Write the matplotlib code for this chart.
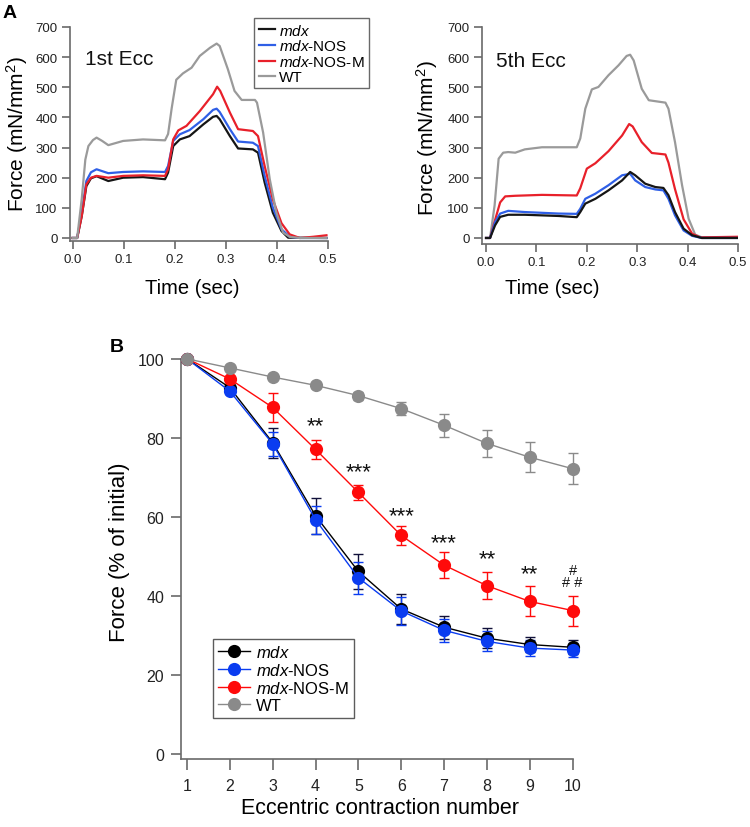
import numpy as np
import matplotlib
matplotlib.use("Agg")
import matplotlib.pyplot as plt

plt.rcParams["font.family"] = ["Liberation Sans", "DejaVu Sans"]
plt.rcParams["mathtext.fontset"] = "custom"
plt.rcParams["mathtext.rm"] = "Liberation Sans"
plt.rcParams["mathtext.it"] = "Liberation Sans:italic"

W, H = 750, 828

# ---- Panel A traces (time in sec, force in mN/mm^2) ----
ecc1_wt_t = [0, 0.009, 0.018, 0.025, 0.031, 0.04, 0.047, 0.058, 0.07, 0.099, 0.138, 0.181, 0.187, 0.194,
             0.203, 0.216, 0.233, 0.249, 0.269, 0.282, 0.288, 0.304, 0.317, 0.331, 0.357, 0.361, 0.373,
             0.386, 0.399, 0.412, 0.425, 0.445, 0.497]
ecc1_wt_f = [0, 0, 130, 260, 305, 325, 333, 322, 308, 322, 327, 324, 345, 430,
             525, 546, 565, 604, 631, 645, 637, 560, 488, 458, 458, 449, 350,
             195, 84, 18, 4, 0, 0]

ecc1_mdx_t = [0, 0.009, 0.018, 0.027, 0.036, 0.047, 0.07, 0.099, 0.138, 0.181, 0.187, 0.197, 0.21, 0.229,
              0.256, 0.275, 0.282, 0.288, 0.308, 0.324, 0.353, 0.363, 0.376, 0.392, 0.409, 0.422, 0.497]
ecc1_mdx_f = [0, 0, 73, 172, 198, 205, 189, 200, 202, 195, 217, 305, 327, 338,
              377, 402, 405, 394, 338, 297, 294, 283, 184, 84, 23, 1, 0]

ecc1_nos_t = [0, 0.009, 0.018, 0.027, 0.036, 0.047, 0.07, 0.099, 0.138, 0.181, 0.187, 0.197, 0.21, 0.229,
              0.256, 0.275, 0.282, 0.288, 0.308, 0.324, 0.353, 0.363, 0.376, 0.392, 0.409, 0.425, 0.445, 0.497]
ecc1_nos_f = [0, 0, 84, 189, 218, 228, 215, 219, 221, 219, 239, 322, 344, 358,
              394, 425, 429, 418, 361, 320, 316, 305, 206, 101, 29, 4, 0, 0]

ecc1_nosm_t = [0, 0.009, 0.018, 0.027, 0.036, 0.047, 0.07, 0.099, 0.138, 0.181, 0.187, 0.197, 0.207, 0.223,
               0.249, 0.275, 0.283, 0.289, 0.308, 0.324, 0.353, 0.363, 0.376, 0.392, 0.409, 0.425, 0.445,
               0.471, 0.497]
ecc1_nosm_f = [0, 0, 73, 178, 200, 206, 200, 206, 208, 206, 228, 327, 357, 372,
               421, 477, 502, 488, 416, 361, 355, 338, 239, 128, 49, 12, 0,
               4, 9]

ecc5_wt_t = [0, 0.008, 0.017, 0.025, 0.034, 0.044, 0.058, 0.077, 0.111, 0.15, 0.18, 0.187, 0.197, 0.21,
             0.223, 0.243, 0.263, 0.279, 0.286, 0.293, 0.309, 0.323, 0.356, 0.362, 0.375, 0.389, 0.402,
             0.415, 0.428, 0.5]
ecc5_wt_f = [0, 0, 108, 263, 283, 285, 283, 294, 301, 301, 301, 330, 429, 493,
             501, 540, 573, 604, 608, 589, 495, 457, 449, 429, 318, 175, 64,
             11, 2, 2]

ecc5_nosm_t = [0, 0.008, 0.018, 0.028, 0.038, 0.058, 0.111, 0.18, 0.187, 0.2, 0.217, 0.243, 0.27, 0.284,
               0.291, 0.309, 0.329, 0.356, 0.362, 0.375, 0.392, 0.409, 0.425, 0.5]
ecc5_nosm_f = [0, 0, 60, 118, 138, 140, 143, 141, 165, 230, 248, 288, 340, 378,
               370, 318, 282, 277, 250, 162, 62, 14, 2, 4]

ecc5_nos_t = [0, 0.008, 0.018, 0.028, 0.044, 0.077, 0.144, 0.18, 0.187, 0.197, 0.217, 0.243, 0.27, 0.286,
              0.296, 0.316, 0.336, 0.352, 0.362, 0.375, 0.392, 0.409, 0.428, 0.5]
ecc5_nos_f = [0, 0, 53, 81, 90, 86, 81, 80, 97, 130, 147, 175, 208, 213,
              191, 169, 161, 158, 130, 75, 25, 7, 0, 0]

ecc5_mdx_t = [0, 0.008, 0.018, 0.028, 0.044, 0.077, 0.144, 0.18, 0.187, 0.197, 0.217, 0.243, 0.27, 0.286,
              0.296, 0.316, 0.336, 0.352, 0.362, 0.375, 0.392, 0.409, 0.428, 0.5]
ecc5_mdx_f = [0, 0, 42, 70, 77, 77, 73, 69, 86, 114, 130, 158, 191, 219,
              208, 180, 169, 166, 142, 86, 31, 9, 0, 0]

# ---- Panel B: force (% of initial) vs contraction number ----
contraction = [1, 2, 3, 4, 5, 6, 7, 8, 9, 10]
mdx_mean = [100, 92.7, 78.8, 60.3, 46.2, 36.7, 32.1, 29.3, 27.7, 27.0]
mdx_err = [0, 0.8, 3.8, 4.5, 4.4, 3.9, 2.9, 2.5, 2.0, 1.8]
nos_mean = [100, 91.8, 78.5, 59.3, 44.6, 36.2, 31.3, 28.5, 26.8, 26.3]
nos_err = [0, 0.8, 3.0, 3.5, 4.0, 3.5, 2.9, 2.5, 2.0, 1.8]
nosm_mean = [100, 94.9, 87.7, 77.1, 66.2, 55.3, 47.8, 42.6, 38.6, 36.3]
nosm_err = [0, 0.8, 3.6, 2.4, 1.8, 2.3, 3.2, 3.4, 3.8, 3.8]
wt_mean = [100, 97.7, 95.4, 93.3, 90.7, 87.4, 83.2, 78.6, 75.1, 72.2]
wt_err = [0, 0.5, 0.6, 0.8, 1.0, 1.7, 2.9, 3.4, 3.8, 3.9]

star_x = [4, 5, 6, 7, 8, 9]
star_y = [83.0, 71.5, 60.3, 53.6, 49.4, 45.6]
star_txt = ["**", "***", "***", "***", "**", "**"]

labels = [r"$\mathit{mdx}$", r"$\mathit{mdx}$-NOS", r"$\mathit{mdx}$-NOS-M", "WT"]
trace_colors = ["#151515", "#2f5fe6", "#e8202a", "#9a9a9a"]
dot_colors = ["#000000", "#0a3cf0", "#ff0a0a", "#8a8a8a"]
spine_col = "#6a6a6a"


def px_axes(fig, left, top, right, bottom):
    return fig.add_axes([left / W, 1 - bottom / H, (right - left) / W, (bottom - top) / H])


def style_axes(ax, tick_size):
    for s in ["top", "right"]:
        ax.spines[s].set_visible(False)
    for s in ["left", "bottom"]:
        ax.spines[s].set_color(spine_col)
        ax.spines[s].set_linewidth(1.2)
    ax.tick_params(colors=spine_col, labelcolor="#222222", labelsize=tick_size, width=1.2)
    ax.tick_params(axis="y", length=6, pad=3)
    ax.tick_params(axis="x", length=6, pad=3)


fig = plt.figure(figsize=(W / 100, H / 100), dpi=100)

# ---- Panel A left ----
axl = px_axes(fig, 70, 28, 328, 242)
series1 = [(ecc1_mdx_t, ecc1_mdx_f), (ecc1_nos_t, ecc1_nos_f), (ecc1_nosm_t, ecc1_nosm_f), (ecc1_wt_t, ecc1_wt_f)]
handles_a = []
for (t, f), c, lab in zip(series1, trace_colors, labels):
    h, = axl.plot(t, f, color=c, lw=1.6, label=lab)
    handles_a.append(h)
axl.set_xlim(-0.005, 0.5)
axl.set_ylim(-10, 700)
axl.set_xticks([0, 0.1, 0.2, 0.3, 0.4, 0.5])
axl.set_yticks(range(0, 701, 100))
style_axes(axl, 9.5)
axl.text(0.024, 597, "1st Ecc", fontsize=15, va="center", ha="left", color="#111111")

# ---- Panel A right ----
axr = px_axes(fig, 482, 28, 738, 245)
series5 = [(ecc5_wt_t, ecc5_wt_f), (ecc5_nosm_t, ecc5_nosm_f), (ecc5_nos_t, ecc5_nos_f), (ecc5_mdx_t, ecc5_mdx_f)]
for (t, f), c in zip(series5, [trace_colors[3], trace_colors[2], trace_colors[1], trace_colors[0]]):
    axr.plot(t, f, color=c, lw=1.6)
axr.set_xlim(-0.008, 0.5)
axr.set_ylim(-20, 700)
axr.set_xticks([0, 0.1, 0.2, 0.3, 0.4, 0.5])
axr.set_yticks(range(0, 701, 100))
style_axes(axr, 9.5)
axr.text(0.02, 590, "5th Ecc", fontsize=15, va="center", ha="left", color="#111111")

for ax in (axl, axr):
    ax.xaxis.set_major_formatter(matplotlib.ticker.FormatStrFormatter("%.1f"))

leg_a = fig.legend(handles=handles_a, labels=labels, loc="upper left",
                   bbox_to_anchor=(254 / W, 1 - 19 / H), fontsize=11, frameon=True,
                   fancybox=False, handlelength=1.1, handletextpad=0.25, labelspacing=0.05,
                   borderpad=0.3, borderaxespad=0)
leg_a.get_frame().set_edgecolor("#444444")
leg_a.get_frame().set_linewidth(1.0)

fig.text(17 / W, 1 - 134 / H, "Force (mN/mm$^2$)", rotation=90, fontsize=15, ha="center", va="center")
fig.text(427 / W, 1 - 138 / H, "Force (mN/mm$^2$)", rotation=90, fontsize=15, ha="center", va="center")
fig.text(192 / W, 1 - 288 / H, "Time (sec)", fontsize=14.5, ha="center", va="center")
fig.text(552 / W, 1 - 288 / H, "Time (sec)", fontsize=14.5, ha="center", va="center")
fig.text(10 / W, 1 - 14 / H, "A", fontsize=14, fontweight="bold", ha="center", va="center")

# ---- Panel B ----
axb = px_axes(fig, 181, 348, 594, 760)
means = [mdx_mean, nos_mean, nosm_mean, wt_mean]
errs = [mdx_err, nos_err, nosm_err, wt_err]
err_cols = ["#10103a", dot_colors[1], dot_colors[2], dot_colors[3]]
handles_b = [None] * 4
for i in [3, 2, 1, 0]:
    axb.errorbar(contraction, means[i], yerr=errs[i], fmt="none", ecolor=err_cols[i],
                 elinewidth=1.0, capsize=3.5, capthick=1.0, zorder=2 + i, clip_on=False)
    h, = axb.plot(contraction, means[i], color=dot_colors[i], lw=1.0, marker="o", markersize=9.5,
                  markeredgewidth=0, zorder=3 + i, clip_on=False, label=labels[i])
    handles_b[i] = h
axb.set_xlim(0.86, 10.5)
axb.set_ylim(-1.27, 103)
axb.set_xticks(contraction)
axb.set_yticks(range(0, 101, 20))
style_axes(axb, 11.5)
axb.tick_params(axis="y", length=7, pad=5)
axb.tick_params(axis="x", length=8, pad=6)
axb.spines["left"].set_bounds(-1.27, 100)
axb.spines["bottom"].set_bounds(0.86, 10)

for x, y, s in zip(star_x, star_y, star_txt):
    axb.text(x, y, s, fontsize=16, ha="center", va="center", color="#111111")
axb.text(10, 45.0, "#\n# #", fontsize=10.5, ha="center", va="center", color="#111111",
         linespacing=0.8)

leg_b = axb.legend(handles=handles_b, labels=labels, loc="lower left",
                   bbox_to_anchor=((213 - 181) / (594 - 181), (760 - 719) / (760 - 348)),
                   fontsize=12, frameon=True, fancybox=False, handlelength=1.9,
                   handletextpad=0.4, labelspacing=0.12, borderpad=0.3, borderaxespad=0)
leg_b.get_frame().set_edgecolor("#333333")
leg_b.get_frame().set_linewidth(1.0)

fig.text(120 / W, 1 - 552 / H, "Force (% of initial)", rotation=90, fontsize=16, ha="center", va="center")
fig.text(380 / W, 1 - 809 / H, "Eccentric contraction number", fontsize=15.5, ha="center", va="center")
fig.text(117 / W, 1 - 348 / H, "B", fontsize=14, fontweight="bold", ha="center", va="center")

fig.savefig("out.png", dpi=100)
